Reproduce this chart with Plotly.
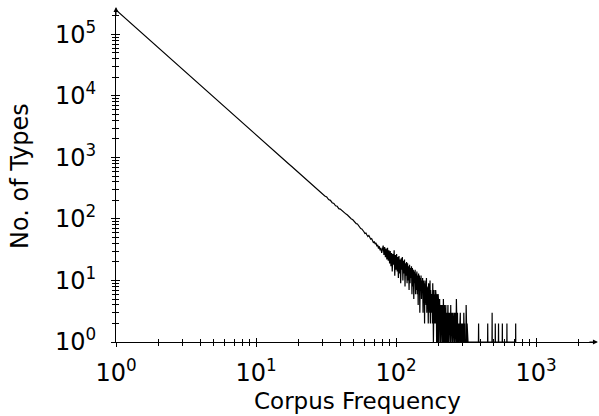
import plotly.graph_objects as go

# Frequency spectrum: corpus frequency m -> number of types with that frequency
dense_freq = list(range(1, 201))
dense_count = [
    250000, 61000, 26500, 14700, 9400, 6500, 4750, 3650, 2880, 2330,
    1920, 1610, 1370, 1180, 1030, 905, 800, 715, 640, 578,
    525, 482, 433, 404, 366, 345, 312, 297, 270, 259,
    236, 228, 207, 201, 184, 179, 164, 161, 147, 145,
    137, 131, 124, 120, 116, 109, 103, 100, 98, 92,
    87, 84, 83, 78, 73, 70, 69, 66, 62, 58,
    59, 55, 52, 54, 49, 47, 48, 44, 41, 43,
    39, 41, 36, 38, 33, 36, 31, 34, 28, 32,
    37, 26, 35, 24, 33, 22, 34, 21, 31, 19,
    30, 17, 28, 14, 27, 18, 31, 12, 26, 15,
    27, 14, 24, 11, 25, 13, 22, 9, 23, 15,
    24, 10, 21, 13, 22, 8, 19, 12, 20, 9,
    19, 10, 17, 7, 18, 9, 16, 11, 17, 6,
    16, 8, 15, 5, 14, 9, 15, 6, 13, 7,
    14, 6, 12, 4, 13, 8, 12, 3, 11, 7,
    12, 5, 10, 7, 11, 3, 10, 6, 9, 2,
    10, 5, 9, 4, 11, 3, 8, 7, 6, 2,
    9, 4, 8, 3, 10, 2, 7, 5, 3, 6,
    6, 2, 9, 4, 1, 6, 7, 2, 5, 6,
    2, 7, 3, 5, 1, 6, 2, 4, 1, 6,
]

tail_freq = [
    201, 202, 203, 204, 205, 206, 207, 208, 209, 210,
    211, 212, 213, 214, 215, 216, 217, 218, 219, 220,
    221, 222, 223, 224, 225, 226, 227, 228, 229, 230,
    231, 232, 233, 235, 236, 237, 238, 239, 240, 241,
    242, 244, 245, 246, 247, 248, 250, 251, 252, 253,
    255, 256, 257, 259, 260, 261, 262, 264, 265, 266,
    268, 269, 270, 271, 272, 273, 275, 276, 278, 279,
    281, 283, 284, 286, 288, 289, 291, 293, 295, 297,
    299, 300, 302, 304, 305, 306, 308, 309, 310, 313,
    316, 317, 318, 321, 322, 323, 327, 333, 340, 348,
    356, 365, 374, 388, 389, 390, 402, 418, 435, 451,
    452, 453, 468, 485, 486, 487, 498, 511, 512, 513,
    526, 539, 540, 541, 574, 575, 576, 619, 620, 621,
    715, 716, 717,
]
tail_count = [
    3, 4, 1, 3, 5, 2, 4, 1, 3, 4,
    2, 3, 1, 4, 2, 3, 1, 5, 2, 3,
    1, 4, 2, 3, 1, 2, 4, 1, 3, 2,
    3, 1, 2, 4, 1, 2, 3, 1, 2, 1,
    3, 2, 1, 4, 1, 2, 3, 1, 2, 1,
    3, 1, 2, 1, 2, 3, 1, 2, 1, 3,
    1, 2, 5, 1, 2, 1, 3, 1, 2, 1,
    2, 1, 2, 1, 3, 1, 2, 1, 2, 1,
    2, 1, 1, 1, 3, 1, 1, 2, 1, 1,
    1, 4, 1, 1, 2, 1, 1, 1, 1, 1,
    1, 1, 1, 1, 2, 1, 1, 1, 1, 1,
    2, 1, 1, 1, 3, 1, 1, 1, 2, 1,
    1, 1, 2, 1, 1, 2, 1, 1, 2, 1,
    1, 2, 1,
]

freq = dense_freq + tail_freq
count = dense_count + tail_count

major_vals = [1, 10, 100, 1000]
major_text = ["10<sup>0</sup>", "10<sup>1</sup>", "10<sup>2</sup>", "10<sup>3</sup>"]
minor_x = [m * 10 ** k for k in range(4) for m in range(2, 10)]
y_major_vals = [1, 10, 100, 1000, 10000, 100000]
y_major_text = ["10<sup>0</sup>", "10<sup>1</sup>", "10<sup>2</sup>",
                "10<sup>3</sup>", "10<sup>4</sup>", "10<sup>5</sup>"]
minor_y = [m * 10 ** k for k in range(6) for m in range(2, 10)]

FONT = "DejaVu Sans"
X_RANGE = [0, 3.4286]
Y_RANGE = [0, 5.398]

fig = go.Figure()
fig.add_trace(go.Scatter(x=freq, y=count, mode="lines",
                         line=dict(color="black", width=1.2), hoverinfo="skip",
                         cliponaxis=False))
# invisible helpers so overlay axes get drawn
fig.add_trace(go.Scatter(x=[10], y=[10], xaxis="x2", yaxis="y", mode="markers",
                         marker=dict(opacity=0), hoverinfo="skip"))
fig.add_trace(go.Scatter(x=[10], y=[10], xaxis="x", yaxis="y2", mode="markers",
                         marker=dict(opacity=0), hoverinfo="skip"))

common = dict(type="log", showgrid=False, zeroline=False)

fig.update_layout(
    width=599, height=416, autosize=False,
    margin=dict(l=116, r=3, t=10, b=74),
    paper_bgcolor="white", plot_bgcolor="white",
    showlegend=False,
    font=dict(family=FONT, color="black", size=24),
    xaxis=dict(**common, range=X_RANGE, showline=True, linecolor="black", linewidth=1,
               tickmode="array", tickvals=major_vals, ticktext=major_text,
               ticks="outside", ticklen=4, tickwidth=1, tickcolor="black",
               ticklabelstandoff=5,
               tickfont=dict(family=FONT, size=24, color="black"),
               minor=dict(tickmode="array", tickvals=minor_x, ticks="outside",
                          ticklen=3, tickwidth=1, tickcolor="black", showgrid=False)),
    xaxis2=dict(**common, range=X_RANGE, overlaying="x", anchor="y", side="bottom",
                showline=False, tickmode="array", tickvals=major_vals,
                ticks="inside", ticklen=4, tickwidth=1, tickcolor="black",
                showticklabels=False,
                minor=dict(tickmode="array", tickvals=minor_x, ticks="inside",
                           ticklen=3, tickwidth=1, tickcolor="black", showgrid=False)),
    yaxis=dict(**common, range=Y_RANGE, showline=True, linecolor="black", linewidth=1,
               tickmode="array", tickvals=y_major_vals, ticktext=y_major_text,
               ticks="outside", ticklen=4, tickwidth=1, tickcolor="black",
               ticklabelstandoff=10,
               tickfont=dict(family=FONT, size=24, color="black"),
               minor=dict(tickmode="array", tickvals=minor_y, ticks="outside",
                          ticklen=3, tickwidth=1, tickcolor="black", showgrid=False)),
    yaxis2=dict(**common, range=Y_RANGE, overlaying="y", anchor="x", side="left",
                showline=False, tickmode="array", tickvals=y_major_vals,
                ticks="inside", ticklen=4, tickwidth=1, tickcolor="black",
                showticklabels=False,
                minor=dict(tickmode="array", tickvals=minor_y, ticks="inside",
                           ticklen=3, tickwidth=1, tickcolor="black", showgrid=False)),
    annotations=[
        dict(text="Corpus Frequency", xref="paper", yref="paper", x=0.504, y=-0.178,
             xanchor="center", yanchor="middle", showarrow=False,
             font=dict(family=FONT, size=23, color="black")),
        dict(text="No. of Types", xref="paper", yref="paper", x=-0.2, y=0.5,
             xanchor="center", yanchor="middle", textangle=-90, showarrow=False,
             font=dict(family=FONT, size=24, color="black")),
        dict(text="", xref="paper", yref="paper", x=1.004, y=0, ax=-10, ay=0,
             showarrow=True, arrowhead=2, arrowsize=1, arrowwidth=1,
             arrowcolor="black"),
        dict(text="", xref="paper", yref="paper", x=0, y=1.009, ax=0, ay=10,
             showarrow=True, arrowhead=2, arrowsize=1, arrowwidth=1,
             arrowcolor="black"),
    ],
)

fig.write_html("out.html", post_script="document.body.style.margin='0';",
               config={"displayModeBar": False})
